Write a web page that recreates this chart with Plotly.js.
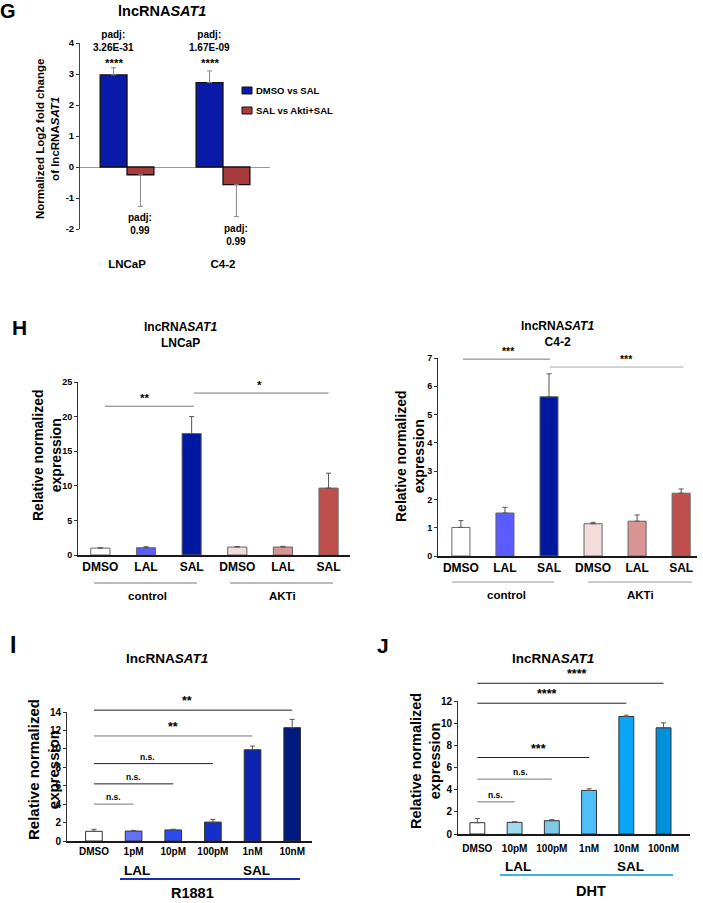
<!DOCTYPE html>
<html><head><meta charset="utf-8">
<script src="https://cdn.plot.ly/plotly-3.0.1.min.js"></script>
<style>html,body{margin:0;padding:0;background:#fff}#chart{width:703px;height:903px}</style>
</head><body><div id="chart"></div>
<script>
// ---------------- DATA ----------------
const gCategories = ['LNCaP', 'C4-2'];
const gSeriesNames = ['DMSO vs SAL', 'SAL vs Akti+SAL'];
const gDmsoVsSal = [2.97, 2.72];
const gDmsoVsSalErr = [0.23, 0.38];
const gSalVsAktiSal = [-0.25, -0.57];
const gSalVsAktiSalErr = [1.02, 1.03];
const gPadjTop = ['3.26E-31', '1.67E-09'];
const gStars = ['****', '****'];
const gPadjBottom = ['0.99', '0.99'];
const gTickVals = [-2, -1, 0, 1, 2, 3, 4];
const gTickText = ['-2', '-1', '0', '1', '2', '3', '4'];

const hCategories = ['DMSO', 'LAL', 'SAL', 'DMSO', 'LAL', 'SAL'];
const hGroups = ['control', 'AKTi'];
const hLncapValues = [1.0, 1.05, 17.55, 1.15, 1.15, 9.67];
const hLncapErr = [0.05, 0.15, 2.45, 0.08, 0.1, 2.15];
const hC42Values = [1.01, 1.52, 5.63, 1.14, 1.23, 2.22];
const hC42Err = [0.24, 0.2, 0.81, 0.05, 0.22, 0.15];
const hLncapSigFrom = [0.1, 2.05], hLncapSigTo = [2.05, 5.0], hLncapSigY = [21.5, 23.4], hLncapSigLabel = ['**', '*'], hLncapSigTextX = [0.97, 3.49];
const hC42SigFrom = [0.05, 2.02], hC42SigTo = [2.02, 5.05], hC42SigY = [6.96, 6.68], hC42SigLabel = ['***', '***'], hC42SigTextX = [1.07, 3.77];

const iCategories = ['DMSO', '1pM', '10pM', '100pM', '1nM', '10nM'];
const iValues = [1.05, 1.08, 1.2, 2.05, 9.9, 12.3];
const iErr = [0.22, 0.07, 0.08, 0.3, 0.4, 0.9];
const iSigTo = [5, 4, 3, 2, 1], iSigY = [14.2, 11.4, 8.4, 6.2, 4.0], iSigLabel = ['**', '**', 'n.s.', 'n.s.', 'n.s.'], iSigTextX = [2.35, 2.0, 1.34, 1.0, 0.5];

const jCategories = ['DMSO', '10pM', '100pM', '1nM', '10nM', '100nM'];
const jValues = [1.02, 1.05, 1.2, 3.93, 10.6, 9.58];
const jErr = [0.38, 0.06, 0.09, 0.15, 0.12, 0.45];
const jSigTo = [5, 4, 3, 2, 1], jSigY = [13.6, 11.8, 6.9, 4.95, 2.9], jSigLabel = ['****', '****', '***', 'n.s.', 'n.s.'], jSigTextX = [2.67, 1.87, 1.65, 1.17, 0.5];

// ---------------- STYLE ----------------
const W = 703, H = 903;
const FONT = 'Liberation Sans, Arial, Helvetica, sans-serif';
const gColors = ['#0a1aa8', '#a83c3c'];
const hColors = ['#ffffff', '#5a5cff', '#0018a0', '#f2dcdc', '#d99494', '#c0504d'];
const iColors = ['#ffffff', '#6470f5', '#2b4cf2', '#1430c8', '#0a23b0', '#001a7f'];
const jColors = ['#ffffff', '#a0dcee', '#7dcae6', '#4fc0fb', '#0aa5f5', '#0090dc'];

const P = {
  G: {x: [80, 270], y: [43, 229], xr: [-0.49, 1.49], yr: [-2, 4]},
  HL: {x: [78, 350], y: [382, 555], xr: [-0.49, 5.47], yr: [0, 25]},
  HR: {x: [438, 697], y: [358, 556], xr: [-0.52, 5.36], yr: [0, 7]},
  I: {x: [67, 312], y: [712, 841], xr: [-0.68, 5.5], yr: [0, 14]},
  J: {x: [458, 690], y: [701, 834], xr: [-0.52, 5.71], yr: [0, 12]}
};
const px = v => v / W, py = v => 1 - v / H;
const dx = (p, v) => px(p.x[0] + (v - p.xr[0]) / (p.xr[1] - p.xr[0]) * (p.x[1] - p.x[0]));
const dy = (p, v) => py(p.y[1] - (v - p.yr[0]) / (p.yr[1] - p.yr[0]) * (p.y[1] - p.y[0]));
const zeros = a => a.map(() => 0);

function xAxis(p, yId, opts) {
  return Object.assign({domain: [px(p.x[0]), px(p.x[1])], range: p.xr, anchor: yId, showgrid: false, zeroline: false,
    showline: true, linecolor: '#1a1a1a', linewidth: 2, ticks: '', fixedrange: true,
    tickfont: {family: FONT, size: 11, color: '#000', weight: 'bold'}}, opts || {});
}
function yAxis(p, xId, dtick, opts) {
  return Object.assign({domain: [py(p.y[1]), py(p.y[0])], range: p.yr, anchor: xId, dtick: dtick, showgrid: false, zeroline: false,
    showline: true, linecolor: '#333', linewidth: 1, ticks: 'outside', ticklen: 3, tickcolor: '#333', fixedrange: true,
    tickfont: {family: FONT, size: 9, color: '#000', weight: 'bold'}}, opts || {});
}
function ann(x, y, text, size, o) {
  return Object.assign({x: px(x), y: py(y), xref: 'paper', yref: 'paper', text: text, showarrow: false,
    xanchor: 'center', yanchor: 'middle', font: {family: FONT, size: size, color: '#000', weight: 'bold'}}, o || {});
}
function hline(x0, x1, y, color, width) {
  return {type: 'line', xref: 'paper', yref: 'paper', x0: px(x0), x1: px(x1), y0: py(y), y1: py(y), line: {color: color, width: width}};
}
function sigLine(p, from, to, yv, color) {
  return {type: 'line', xref: 'paper', yref: 'paper', x0: dx(p, from), x1: dx(p, to), y0: dy(p, yv), y1: dy(p, yv), line: {color: color, width: 1}};
}
function sigText(p, xv, yv, text, size, weight) {
  return {x: dx(p, xv), y: dy(p, yv), xref: 'paper', yref: 'paper', text: text, showarrow: false, xanchor: 'center', yanchor: 'bottom', yshift: 0,
    font: {family: FONT, size: size, color: '#000', weight: weight || 'bold'}};
}
function errUp(arr, color) {
  return {type: 'data', symmetric: false, array: arr, arrayminus: zeros(arr), color: color, thickness: 1, width: 2.5};
}

// ---------------- TRACES ----------------
const traces = [];
// G
traces.push({type: 'bar', x: gCategories, y: gDmsoVsSal, name: gSeriesNames[0], width: 0.28, offset: -0.28, xaxis: 'x', yaxis: 'y',
  marker: {color: gColors[0], line: {color: '#111', width: 1.3}}, error_y: errUp(gDmsoVsSalErr, '#888'), showlegend: false, hoverinfo: 'skip'});
traces.push({type: 'bar', x: gCategories, y: gSalVsAktiSal, name: gSeriesNames[1], width: 0.28, offset: 0, xaxis: 'x', yaxis: 'y',
  marker: {color: gColors[1], line: {color: '#111', width: 1.3}},
  error_y: {type: 'data', symmetric: false, array: zeros(gSalVsAktiSalErr), arrayminus: gSalVsAktiSalErr, color: '#888', thickness: 1, width: 2.5},
  showlegend: false, hoverinfo: 'skip'});
// H left / right
const hIdx = hCategories.map((c, i) => i);
traces.push({type: 'bar', x: hIdx, y: hLncapValues, width: 0.42, xaxis: 'x2', yaxis: 'y2', marker: {color: hColors, line: {color: '#666', width: 1}},
  error_y: errUp(hLncapErr, '#555'), showlegend: false, hoverinfo: 'skip'});
traces.push({type: 'bar', x: hIdx, y: hC42Values, width: 0.41, xaxis: 'x3', yaxis: 'y3', marker: {color: hColors, line: {color: '#666', width: 1}},
  error_y: errUp(hC42Err, '#555'), showlegend: false, hoverinfo: 'skip'});
// I
traces.push({type: 'bar', x: iCategories, y: iValues, width: 0.42, xaxis: 'x4', yaxis: 'y4', marker: {color: iColors, line: {color: '#333', width: 1}},
  error_y: errUp(iErr, '#555'), showlegend: false, hoverinfo: 'skip'});
// J
traces.push({type: 'bar', x: jCategories, y: jValues, width: 0.4, xaxis: 'x5', yaxis: 'y5', marker: {color: jColors, line: {color: '#333', width: 1}},
  error_y: errUp(jErr, '#555'), showlegend: false, hoverinfo: 'skip'});

// ---------------- ANNOTATIONS & SHAPES ----------------
const A = [], S = [];
// G
A.push(ann(8, 11, 'G', 20));
A.push(ann(162, 11, 'lncRNA<i>SAT1</i>', 14.5));
A.push(ann(48, 139, 'Normalized Log2 fold change<br>of lncRNA<i>SAT1</i>', 11.5, {textangle: -90}));
gCategories.forEach((c, i) => {
  A.push({x: dx(P.G, i - 0.14), y: py(41.5), xref: 'paper', yref: 'paper', text: 'padj:<br>' + gPadjTop[i], showarrow: false, xanchor: 'center', yanchor: 'middle',
    font: {family: FONT, size: 10, color: '#000', weight: 'bold'}});
  A.push({x: dx(P.G, i - 0.14), y: py(63), xref: 'paper', yref: 'paper', text: gStars[i], showarrow: false, xanchor: 'center', yanchor: 'middle',
    font: {family: FONT, size: 11.5, color: '#000', weight: 'bold'}});
  A.push({x: dx(P.G, i + 0.14), y: dy(P.G, gSalVsAktiSal[i] - gSalVsAktiSalErr[i]), xref: 'paper', yref: 'paper', yshift: -4,
    text: 'padj:<br>' + gPadjBottom[i], showarrow: false, xanchor: 'center', yanchor: 'top', font: {family: FONT, size: 10, color: '#000', weight: 'bold'}});
});
// G legend (manual)
gSeriesNames.forEach((n, i) => {
  const y0 = 87 + i * 20;
  S.push({type: 'rect', xref: 'paper', yref: 'paper', x0: px(242), x1: px(252), y0: py(y0), y1: py(y0 + 7), fillcolor: gColors[i], line: {color: '#111', width: 1}});
  A.push(ann(254, y0 + 3.5, n, 9.5, {xanchor: 'left'}));
});

// H left
A.push(ann(19, 327, 'H', 21));
A.push(ann(180, 335, 'lncRNA<i>SAT1</i><br>LNCaP', 12));
A.push(ann(47, 455, 'Relative normalized<br>expression', 14, {textangle: -90}));
hLncapSigY.forEach((yv, i) => {
  S.push(sigLine(P.HL, hLncapSigFrom[i], hLncapSigTo[i], yv, '#777'));
  A.push(sigText(P.HL, hLncapSigTextX[i], yv, hLncapSigLabel[i], 11.5));
});
S.push(hline(94, 197, 583, '#777', 1)); S.push(hline(230, 333, 583, '#777', 1));
A.push(ann(147, 596, hGroups[0], 11.5)); A.push(ann(282, 596, hGroups[1], 11.5));

// H right
A.push(ann(557, 334, 'lncRNA<i>SAT1</i><br>C4-2', 12));
A.push(ann(410, 456, 'Relative normalized<br>expression', 14, {textangle: -90}));
hC42SigY.forEach((yv, i) => {
  S.push(sigLine(P.HR, hC42SigFrom[i], hC42SigTo[i], yv, i === 0 ? '#777' : '#aaa'));
  A.push(sigText(P.HR, hC42SigTextX[i], yv, hC42SigLabel[i], 10.5));
});
S.push(hline(452, 554, 582, '#999', 1)); S.push(hline(588, 692, 582, '#999', 1));
A.push(ann(506, 595, hGroups[0], 11.5)); A.push(ann(640, 595, hGroups[1], 11.5));

// I
A.push(ann(13, 645, 'I', 23));
A.push(ann(167, 658, 'lncRNA<i>SAT1</i>', 13.5));
A.push(ann(43, 770, 'Relative normalized<br>expression', 15, {textangle: -90}));
const iLineColors = ['#222', '#777', '#222', '#222', '#777'];
iSigY.forEach((yv, i) => {
  S.push(sigLine(P.I, 0, iSigTo[i], yv, iLineColors[i]));
  const isNs = iSigLabel[i] === 'n.s.';
  A.push(sigText(P.I, iSigTextX[i], yv, iSigLabel[i], isNs ? 8.5 : 12.5));
});
A.push(ann(137, 870, 'LAL', 13.5)); A.push(ann(256, 870, 'SAL', 13.5));
S.push(hline(120, 300, 879, '#1a30b0', 2));
A.push(ann(192, 893, 'R1881', 14.5));

// J
A.push(ann(383, 645, 'J', 21));
A.push(ann(553, 658, 'lncRNA<i>SAT1</i>', 13.5));
A.push(ann(425, 761, 'Relative normalized<br>expression', 14.5, {textangle: -90}));
const jLineColors = ['#222', '#222', '#222', '#777', '#777'];
jSigY.forEach((yv, i) => {
  S.push(sigLine(P.J, 0, jSigTo[i], yv, jLineColors[i]));
  const isNs = jSigLabel[i] === 'n.s.';
  A.push(sigText(P.J, jSigTextX[i], yv, jSigLabel[i], isNs ? 8.5 : 12.5));
});
A.push(ann(518, 866, 'LAL', 13.5)); A.push(ann(630, 866, 'SAL', 13.5));
S.push(hline(500, 673, 875, '#3cb4f0', 2));
A.push(ann(591, 891, 'DHT', 14.5));

// ---------------- LAYOUT ----------------
const layout = {
  width: W, height: H, margin: {l: 0, r: 0, t: 0, b: 0}, paper_bgcolor: '#fff', plot_bgcolor: 'rgba(0,0,0,0)',
  font: {family: FONT, color: '#000'}, barmode: 'overlay', showlegend: false,
  xaxis: xAxis(P.G, 'y', {showline: false, ticklabelstandoff: 26, tickfont: {family: FONT, size: 11.5, color: '#000', weight: 'bold'}}),
  yaxis: yAxis(P.G, 'x', 1, {tickvals: gTickVals, ticktext: gTickText, zeroline: true, zerolinecolor: '#999', zerolinewidth: 1, linecolor: '#444',
    tickfont: {family: FONT, size: 9.5, color: '#000', weight: 'bold'}}),
  xaxis2: xAxis(P.HL, 'y2', {tickvals: hIdx, ticktext: hCategories, tickfont: {family: FONT, size: 12, color: '#000', weight: 'bold'}}),
  yaxis2: yAxis(P.HL, 'x2', 5),
  xaxis3: xAxis(P.HR, 'y3', {tickvals: hIdx, ticktext: hCategories, tickfont: {family: FONT, size: 12, color: '#000', weight: 'bold'}}),
  yaxis3: yAxis(P.HR, 'x3', 1),
  xaxis4: xAxis(P.I, 'y4', {tickfont: {family: FONT, size: 10, color: '#000', weight: 'bold'}}),
  yaxis4: yAxis(P.I, 'x4', 2, {tickfont: {family: FONT, size: 10, color: '#000', weight: 'bold'}}),
  xaxis5: xAxis(P.J, 'y5', {tickfont: {family: FONT, size: 10, color: '#000', weight: 'bold'}, ticklabelstandoff: 4}),
  yaxis5: yAxis(P.J, 'x5', 2, {tickfont: {family: FONT, size: 10, color: '#000', weight: 'bold'}}),
  annotations: A, shapes: S
};
Plotly.newPlot('chart', traces, layout, {staticPlot: true, displayModeBar: false});
</script></body></html>
